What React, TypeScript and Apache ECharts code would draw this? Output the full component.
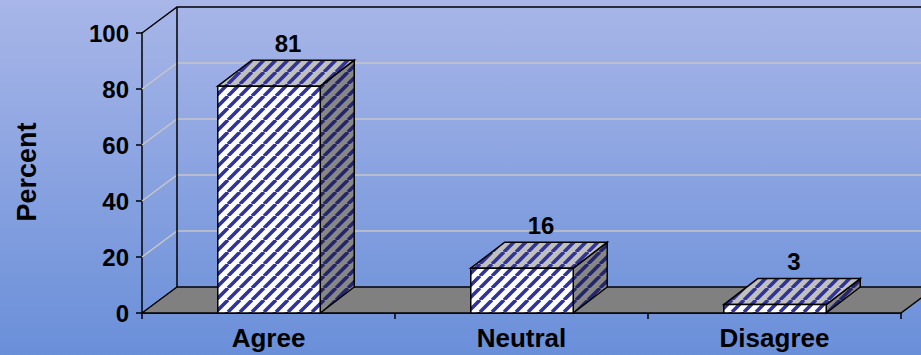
import React, { useEffect, useRef } from "react";
import * as echarts from "echarts";

const categories = ["Agree", "Neutral", "Disagree"];
const percentValues = [81, 16, 3];
const yTickValues = [0, 20, 40, 60, 80, 100];
const gridValues = [20, 40, 60, 80];

const DX = 34;
const DY = -26;
const FONT = '"Liberation Sans", Arial, sans-serif';

function makeStripes(bg: string, fg: string, size = 12, lw = 3.6) {
  const c = document.createElement("canvas");
  c.width = size;
  c.height = size;
  const ctx = c.getContext("2d")!;
  ctx.fillStyle = bg;
  ctx.fillRect(0, 0, size, size);
  ctx.strokeStyle = fg;
  ctx.lineWidth = lw;
  ctx.beginPath();
  for (const k of [-size, 0, size]) {
    ctx.moveTo(k, size);
    ctx.lineTo(k + size, 0);
  }
  ctx.stroke();
  return c;
}

export default function App() {
  const ref = useRef<HTMLDivElement>(null);

  useEffect(() => {
    document.body.style.margin = "0";
    if (!ref.current) return;
    const chart = echarts.init(ref.current, undefined, { renderer: "svg" });

    const frontPat = { image: makeStripes("#ffffff", "#30349a"), repeat: "repeat" };
    const topPat = { image: makeStripes("#c0c0c0", "#30349a"), repeat: "repeat" };
    const sidePat = { image: makeStripes("#878787", "#23266e"), repeat: "repeat" };

    const option: any = {
      animation: false,
      backgroundColor: {
        type: "linear",
        x: 0,
        y: 0,
        x2: 0,
        y2: 1,
        colorStops: [
          { offset: 0, color: "#a8b6e8" },
          { offset: 1, color: "#6a8fd9" },
        ],
      },
      grid: { left: 142, right: 20, top: 33, bottom: 42, containLabel: false },
      graphic: [
        {
          type: "text",
          x: 27,
          y: 172,
          rotation: Math.PI / 2,
          style: {
            text: "Percent",
            fontSize: 27,
            fontWeight: "bold",
            fontFamily: FONT,
            fill: "#000",
            align: "center",
            verticalAlign: "middle",
          },
        },
      ],
      xAxis: {
        type: "category",
        data: categories,
        boundaryGap: true,
        axisLine: { show: true, lineStyle: { color: "#000", width: 1.5 } },
        axisTick: { show: true, length: 6, alignWithLabel: false, lineStyle: { color: "#000", width: 1.5 } },
        axisLabel: { color: "#000", fontSize: 26, fontWeight: "bold", fontFamily: FONT, margin: 12 },
        splitLine: { show: false },
      },
      yAxis: {
        type: "value",
        min: yTickValues[0],
        max: yTickValues[yTickValues.length - 1],
        interval: 20,
        axisLine: { show: true, lineStyle: { color: "#000", width: 1.5 } },
        axisTick: { show: true, length: 6, lineStyle: { color: "#000", width: 1.5 } },
        axisLabel: { color: "#000", fontSize: 24, fontWeight: "bold", fontFamily: FONT, margin: 13 },
        splitLine: { show: false },
      },
      series: [
        {
          type: "custom",
          name: "walls",
          z: 1,
          silent: true,
          data: [[0, 0]],
          renderItem: (params: any, api: any) => {
            const cs = params.coordSys;
            const L = cs.x;
            const R = cs.x + cs.width;
            const y0 = api.coord([0, 0])[1];
            const yMax = api.coord([0, yTickValues[yTickValues.length - 1]])[1];
            const children: any[] = [];
            for (const v of gridValues) {
              const yv = api.coord([0, v])[1];
              children.push({
                type: "polyline",
                shape: { points: [[L, yv], [L + DX + 1, yv + DY], [R + DX + 1, yv + DY]] },
                style: { stroke: "#c6c6c6", lineWidth: 1.5, fill: "none" },
              });
            }
            children.push({
              type: "polyline",
              shape: { points: [[L, yMax], [L + DX + 1, yMax + DY], [R + DX + 1, yMax + DY]] },
              style: { stroke: "#000", lineWidth: 1.5, fill: "none" },
            });
            children.push({
              type: "line",
              shape: { x1: L + DX + 1, y1: yMax + DY, x2: L + DX + 1, y2: y0 + DY },
              style: { stroke: "#000", lineWidth: 1.5 },
            });
            children.push({
              type: "polygon",
              shape: { points: [[L, y0], [L + DX + 1, y0 + DY], [R + DX + 1, y0 + DY], [R, y0]] },
              style: { fill: "#808080", stroke: "#000", lineWidth: 1.5 },
            });
            return { type: "group", children };
          },
        },
        {
          type: "custom",
          name: "Percent",
          z: 3,
          data: percentValues.map((v, i) => [i, v]),
          renderItem: (params: any, api: any) => {
            const idx = api.value(0);
            const val = api.value(1);
            const top = api.coord([idx, val]);
            const base = api.coord([idx, 0]);
            const w = api.size([1, 0])[0] * 0.405;
            const x0 = top[0] - w / 2 + 0.5;
            const x1 = top[0] + w / 2 + 0.5;
            const yT = top[1];
            const yB = base[1];
            const stroke = { stroke: "#000", lineWidth: 1.5, lineJoin: "miter" };
            return {
              type: "group",
              children: [
                {
                  type: "polygon",
                  shape: { points: [[x1, yT], [x1 + DX, yT + DY], [x1 + DX, yB + DY], [x1, yB]] },
                  style: { fill: sidePat, ...stroke },
                },
                {
                  type: "polygon",
                  shape: { points: [[x0, yT], [x0 + DX, yT + DY], [x1 + DX, yT + DY], [x1, yT]] },
                  style: { fill: topPat, ...stroke },
                },
                {
                  type: "rect",
                  shape: { x: x0, y: yT, width: x1 - x0, height: yB - yT },
                  style: { fill: frontPat, ...stroke },
                },
                {
                  type: "text",
                  x: (x0 + x1) / 2 + DX / 2 + 2,
                  y: yT + DY - 5,
                  style: {
                    text: String(val),
                    fontSize: 24,
                    fontWeight: "bold",
                    fontFamily: FONT,
                    fill: "#000",
                    align: "center",
                    verticalAlign: "bottom",
                  },
                },
              ],
            };
          },
        },
      ],
    };

    chart.setOption(option);
    return () => {
      chart.dispose();
    };
  }, []);

  return <div ref={ref} style={{ width: 921, height: 355 }} />;
}
